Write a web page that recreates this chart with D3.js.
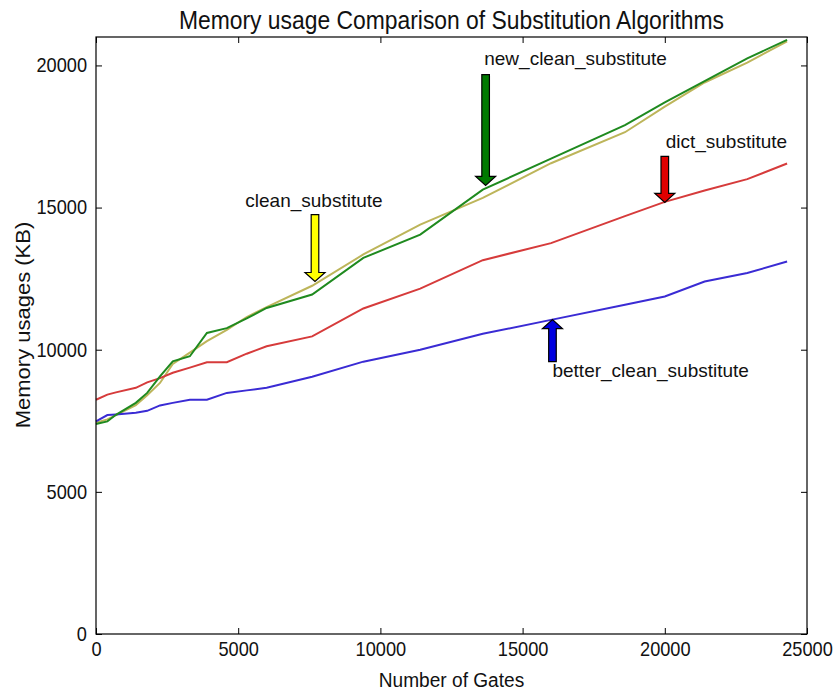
<!DOCTYPE html>
<html><head><meta charset="utf-8">
<script src="https://cdn.jsdelivr.net/npm/d3@7"></script>
<style>body{margin:0;background:#fff;} text{font-family:"Liberation Sans",Arial,sans-serif;}</style>
</head><body>
<svg id="c" width="839" height="692"></svg>
<script>
const gates = [0, 400, 700, 1400, 1800, 2250, 2700, 3300, 3900, 4600, 5300, 6000, 7600, 9400, 11400, 13600, 16000, 18600, 20000, 21400, 22900, 24300];
const betterClean = [7480, 7700, 7720, 7780, 7850, 8040, 8130, 8240, 8240, 8480, 8570, 8660, 9050, 9580, 10000, 10560, 11050, 11580, 11870, 12400, 12700, 13100];
const dictSub = [8240, 8420, 8500, 8660, 8850, 9000, 9190, 9370, 9560, 9560, 9860, 10120, 10470, 11450, 12150, 13150, 13750, 14700, 15200, 15600, 16000, 16550];
const newClean = [7390, 7480, 7710, 8130, 8480, 9060, 9590, 9770, 10590, 10760, 11100, 11470, 11940, 13230, 14050, 15630, 16720, 17900, 18700, 19450, 20250, 20900];
const cleanSub = [7430, 7550, 7700, 8050, 8400, 8830, 9500, 9900, 10300, 10700, 11150, 11500, 12250, 13350, 14400, 15340, 16560, 17650, 18550, 19400, 20100, 20850];
const xTicks = [0, 5000, 10000, 15000, 20000, 25000];
const yTicks = [0, 5000, 10000, 15000, 20000];
const annNames = ["clean_substitute", "new_clean_substitute", "dict_substitute", "better_clean_substitute"];
const annPoint = [[7700, 12400], [13700, 15780], [20000, 15180], [16050, 11060]];
const annTail = [[7700, 14750], [13700, 19680], [20000, 16800], [16050, 9580]];
const annText = [[5250, 15030], [13650, 20000], [20030, 17080], [16050, 9050]];

const svg = d3.select("#c");
const m = {l: 96, r: 807, t: 37, b: 634};
const x = d3.scaleLinear().domain([0, 25000]).range([m.l, m.r]);
const y = d3.scaleLinear().domain([0, 21000]).range([m.b, m.t]);

const series = [
  {v: cleanSub, c: "#bdb55a"},
  {v: dictSub, c: "#d63b3b"},
  {v: betterClean, c: "#3a2bd4"},
  {v: newClean, c: "#1f8a1f"}
];
const line = d3.line().x(d => x(d[0])).y(d => y(d[1]));
series.forEach(s => {
  svg.append("path").datum(gates.map((g, i) => [g, s.v[i]]))
    .attr("d", line).attr("fill", "none").attr("stroke", s.c).attr("stroke-width", 2);
});

// frame
svg.append("rect").attr("x", m.l).attr("y", m.t).attr("width", m.r - m.l).attr("height", m.b - m.t)
  .attr("fill", "none").attr("stroke", "#000").attr("stroke-width", 1.2);

// axes (ticks inward, all sides)
const fs = 20, sx = 0.91;
const gx = svg.append("g").attr("transform", `translate(0,${m.b})`)
  .call(d3.axisBottom(x).tickValues(xTicks).tickFormat(d3.format("d")).tickSizeInner(-6).tickSizeOuter(0).tickPadding(10));
const gy = svg.append("g").attr("transform", `translate(${m.l},0)`)
  .call(d3.axisLeft(y).tickValues(yTicks).tickFormat(d3.format("d")).tickSizeInner(-6).tickSizeOuter(0).tickPadding(9));
const gxt = svg.append("g").attr("transform", `translate(0,${m.t})`)
  .call(d3.axisTop(x).tickValues(xTicks).tickFormat("").tickSizeInner(-6).tickSizeOuter(0));
const gyr = svg.append("g").attr("transform", `translate(${m.r},0)`)
  .call(d3.axisRight(y).tickValues(yTicks).tickFormat("").tickSizeInner(-6).tickSizeOuter(0));
[gx, gy, gxt, gyr].forEach(g => {
  g.select(".domain").remove();
  g.selectAll("text").attr("font-size", fs).attr("fill", "#111").style("font-family", "Liberation Sans, Arial, sans-serif");
  g.selectAll("line").attr("stroke", "#000");
});
gx.selectAll("text").attr("y", 8).attr("dy", "0.71em").attr("transform", `scale(${sx},1)`);
gy.selectAll("text").attr("x", -9 / sx).attr("transform", `scale(${sx},1)`);

// title and labels
svg.append("text").attr("transform", `translate(${(m.l + m.r) / 2},29) scale(0.88,1)`).attr("text-anchor", "middle")
  .attr("font-size", 26).attr("fill", "#111").text("Memory usage Comparison of Substitution Algorithms");
svg.append("text").attr("transform", `translate(${(m.l + m.r) / 2},687) scale(0.91,1)`).attr("text-anchor", "middle")
  .attr("font-size", 21).attr("fill", "#111").text("Number of Gates");
svg.append("text").attr("transform", `translate(30,325) rotate(-90) scale(1.1,1)`).attr("text-anchor", "middle")
  .attr("font-size", 20).attr("fill", "#111").text("Memory usages (KB)");

// annotations
const arrowFill = ["#ffff00", "#007a00", "#e00000", "#0000e0"];
annNames.forEach((name, i) => {
  const tx = x(annTail[i][0]), ty = y(annTail[i][1]);
  const hx = x(annPoint[i][0]), hy = y(annPoint[i][1]);
  const dx = hx - tx, dy = hy - ty, L = Math.hypot(dx, dy);
  const ux = dx / L, uy = dy / L, px = -uy, py = ux;
  const sw = 3.8, hw = 10, hl = 9;
  const bx = hx - ux * hl, by = hy - uy * hl;
  const pts = [
    [tx + px * sw, ty + py * sw], [bx + px * sw, by + py * sw], [bx + px * hw, by + py * hw],
    [hx, hy], [bx - px * hw, by - py * hw], [bx - px * sw, by - py * sw], [tx - px * sw, ty - py * sw]
  ];
  svg.append("path").attr("d", "M" + pts.map(p => p.join(",")).join("L") + "Z")
    .attr("fill", arrowFill[i]).attr("stroke", "#000").attr("stroke-width", 1.2).attr("stroke-linejoin", "miter");
  svg.append("text").attr("x", x(annText[i][0])).attr("y", y(annText[i][1]))
    .attr("font-size", 19).attr("fill", "#111").text(name);
});
</script>
</body></html>
